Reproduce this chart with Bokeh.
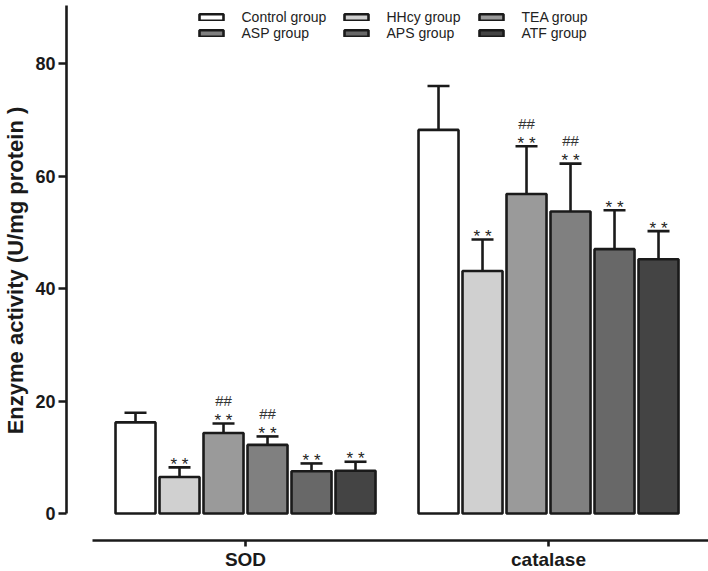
from bokeh.plotting import figure
from bokeh.models import (ColumnDataSource, Range1d, FixedTicker, Whisker, TeeHead,
                          Legend, LegendItem, LinearAxis)
from bokeh.core.properties import value
from bokeh.embed import file_html
from bokeh.resources import INLINE

# ---- data ----
metrics = ["SOD", "catalase"]
groups = ["Control group", "HHcy group", "TEA group", "ASP group", "APS group", "ATF group"]
colors = ["#ffffff", "#d0d0d0", "#9a9a9a", "#808080", "#686868", "#444444"]
sod_mean = [16.2, 6.5, 14.3, 12.2, 7.5, 7.6]
sod_err = [1.7, 1.7, 1.7, 1.5, 1.4, 1.6]
cat_mean = [68.2, 43.1, 56.8, 53.7, 47.0, 45.2]
cat_err = [7.8, 5.6, 8.5, 8.5, 6.9, 5.0]
stars = ["", "* *", "* *", "* *", "* *", "* *"]
hashes = ["", "", "##", "##", "", ""]
y_ticks = [0, 20, 40, 60, 80]

FONT = "Liberation Sans"
INK = "#1a1a1a"
step = 44 / 303
bar_w = 40 / 303

p = figure(frame_width=642, frame_height=540, output_backend="svg", toolbar_location=None,
           x_range=Range1d(-0.5908, 1.528), y_range=Range1d(-4.8, 91.2),
           min_border_left=66, min_border_right=0, min_border_top=0, min_border_bottom=0,
           x_axis_location=None, y_axis_location=None)
p.outline_line_color = None
p.xgrid.visible = False
p.ygrid.visible = False
p.background_fill_color = "white"

legend_items = []
for i, g in enumerate(groups):
    off = (i - (len(groups) - 1) / 2) * step
    xs = [m + off for m in range(len(metrics))]
    means = [sod_mean[i], cat_mean[i]]
    errs = [sod_err[i], cat_err[i]]
    src = ColumnDataSource(dict(
        x=xs, top=means, upper=[m + e for m, e in zip(means, errs)],
        star=[stars[i]] * 2, hash=[hashes[i]] * 2))
    r = p.vbar(x="x", top="top", bottom=0, width=bar_w, source=src,
               fill_color=colors[i], line_color=INK, line_width=2.6)
    legend_items.append(LegendItem(label=g, renderers=[r]))
    w = Whisker(source=src, base="x", upper="upper", lower="top", dimension="height",
                line_color=INK, line_width=2.6,
                upper_head=TeeHead(size=22, line_color=INK, line_width=2.6),
                lower_head=None)
    p.add_layout(w)
    p.text(x="x", y="upper", text="star", source=src, y_offset=-3,
           text_align="center", text_baseline="alphabetic",
           text_font=value(FONT), text_font_size="17px", text_color="#222222")
    p.text(x="x", y="upper", text="hash", source=src, y_offset=-23,
           text_align="center", text_baseline="alphabetic",
           text_font=value(FONT), text_font_size="15px", text_color="#333333")

# axes
yax = LinearAxis(bounds=(0, 90.3), ticker=FixedTicker(ticks=y_ticks),
                 axis_label="Enzyme activity (U/mg protein )")
yax.axis_line_width = 2.6
yax.axis_line_color = INK
yax.major_tick_line_width = 2.6
yax.major_tick_line_color = INK
yax.major_tick_out = 8
yax.major_tick_in = 0
yax.minor_tick_out = 0
yax.minor_tick_in = 0
yax.major_label_standoff = 3
yax.major_label_text_font = FONT
yax.major_label_text_font_style = "bold"
yax.major_label_text_font_size = "18px"
yax.major_label_text_color = INK
yax.axis_label_text_font = FONT
yax.axis_label_text_font_style = "bold"
yax.axis_label_text_font_size = "22px"
yax.axis_label_text_color = INK
yax.axis_label_standoff = 4
p.add_layout(yax, "left")

xax = LinearAxis(bounds=(-0.504, 1.6), ticker=FixedTicker(ticks=[0, 1]),
                 major_label_overrides={0: metrics[0], 1: metrics[1]})
xax.axis_label = None
xax.axis_label_standoff = 0
xax.axis_line_width = 2.6
xax.axis_line_color = INK
xax.major_tick_line_width = 2.6
xax.major_tick_line_color = INK
xax.major_tick_out = 6
xax.major_tick_in = 0
xax.minor_tick_out = 0
xax.minor_tick_in = 0
xax.major_label_standoff = 2
xax.major_label_text_font = FONT
xax.major_label_text_font_style = "bold"
xax.major_label_text_font_size = "19px"
xax.major_label_text_color = INK
p.add_layout(xax, "below")

# legend: three columns of two rows (row-major order)
col_x = [129.5, 274.5, 409.5]
for c in range(3):
    leg = Legend(items=[legend_items[c], legend_items[c + 3]], location=(col_x[c], 499),
                 orientation="vertical", glyph_width=30, glyph_height=8,
                 label_height=14, spacing=0, padding=0, margin=0, label_standoff=16,
                 label_text_font=FONT, label_text_font_size="14px",
                 label_text_color="#222222", border_line_color=None,
                 background_fill_alpha=0)
    p.add_layout(leg, "center")

open("out.html", "w").write(file_html(p, INLINE))
